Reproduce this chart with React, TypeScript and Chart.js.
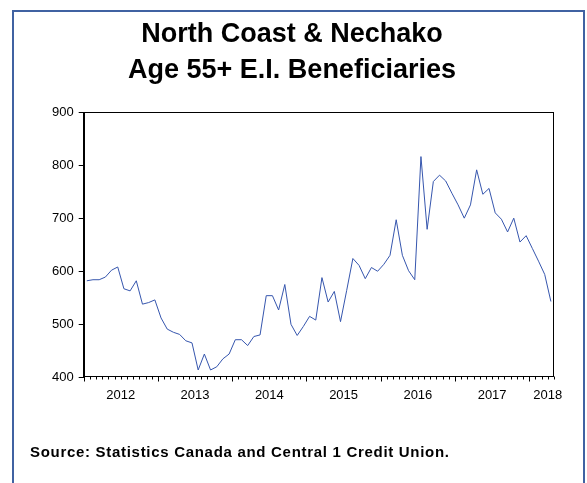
import React, { useEffect, useRef } from 'react';
import { Chart, registerables } from 'chart.js';

Chart.register(...registerables);

// ---- data ----
const startYear = 2012;
const yearLabels = ['2012', '2013', '2014', '2015', '2016', '2017', '2018'];
// monthly, Jan 2012 .. Apr 2018
const beneficiaries = [
  582, 584, 584, 589, 602, 608, 567, 563, 582, 538, 541, 546,
  512, 491, 485, 481, 469, 465, 414, 444, 414, 420, 435, 444,
  471, 471, 460, 477, 480, 554, 554, 527, 575, 500, 479, 496,
  515, 508, 588, 542, 562, 505, 564, 624, 611, 586, 607, 600,
  613, 630, 697, 630, 601, 584, 816, 679, 769, 781, 770, 747,
  725, 700, 725, 791, 745, 756, 710, 698, 674, 700, 655, 667,
  643, 619, 594, 543,
];
const yMin = 400;
const yMax = 900;
const yStep = 100;
const titleLines = ['North Coast & Nechako', 'Age 55+ E.I. Beneficiaries'];
const sourceText = 'Source: Statistics Canada and Central 1 Credit Union.';

const FONT = '"Liberation Sans", Arial, Helvetica, sans-serif';

export default function App() {
  const ref = useRef<HTMLCanvasElement | null>(null);

  useEffect(() => {
    const canvas = ref.current;
    if (!canvas) return;
    const nMonths = beneficiaries.length;
    const points = beneficiaries.map((v, i) => ({ x: i + 0.5, y: v }));

    const framePlugin = {
      id: 'frame',
      beforeDraw(chart: any) {
        const ctx = chart.ctx;
        ctx.save();
        ctx.fillStyle = '#ffffff';
        ctx.fillRect(0, 0, chart.width, chart.height);
        ctx.strokeStyle = '#4062a2';
        ctx.lineWidth = 2;
        ctx.strokeRect(13, 11, 571, 520);
        ctx.restore();
      },
      afterDraw(chart: any) {
        const ctx = chart.ctx;
        const ca = chart.chartArea;
        const xs = chart.scales.x;
        ctx.save();
        // plot box
        ctx.strokeStyle = '#000000';
        ctx.lineWidth = 1;
        const l = Math.round(ca.left) + 0.5;
        const t = Math.round(ca.top) + 0.5;
        const r = Math.round(ca.right) - 0.5;
        const b = Math.round(ca.bottom) - 0.5;
        ctx.strokeRect(l, t, r - l, b - t);
        // month ticks
        ctx.beginPath();
        for (let m = 0; m <= nMonths; m++) {
          const x = Math.round(xs.getPixelForValue(m)) + 0.5;
          const len = m % 12 === 0 ? 5 : 3;
          ctx.moveTo(x, b);
          ctx.lineTo(x, b + len);
        }
        ctx.stroke();
        // title
        ctx.fillStyle = '#000000';
        ctx.textAlign = 'center';
        ctx.textBaseline = 'middle';
        ctx.font = `bold 27px ${FONT}`;
        ctx.fillText(titleLines[0], 292, 35);
        ctx.fillText(titleLines[1], 292, 71);
        // source
        ctx.textAlign = 'left';
        ctx.font = `bold 15px ${FONT}`;
        try {
          (ctx as any).letterSpacing = '0.7px';
        } catch (e) {
          /* ignore */
        }
        ctx.fillText(sourceText, 30, 453);
        ctx.restore();
      },
    };

    const chart = new Chart(canvas, {
      type: 'line',
      data: {
        datasets: [
          {
            label: 'Age 55+ E.I. Beneficiaries',
            data: points,
            borderColor: '#3656ae',
            borderWidth: 1,
            pointRadius: 0,
            tension: 0,
            fill: false,
          },
        ],
      },
      options: {
        responsive: false,
        animation: false,
        devicePixelRatio: 1,
        layout: { padding: { left: 47, right: 33, top: 112, bottom: 70 } },
        plugins: {
          legend: { display: false },
          title: { display: false },
          tooltip: { enabled: false },
        },
        scales: {
          x: {
            type: 'linear',
            min: 0,
            max: nMonths,
            grid: { display: false, drawTicks: false },
            border: { display: false },
            afterBuildTicks: (scale: any) => {
              scale.ticks = yearLabels.map((_, k) => ({
                value: Math.min(k * 12 + 6, nMonths - 1),
              }));
            },
            ticks: {
              autoSkip: false,
              maxRotation: 0,
              padding: 10,
              color: '#000000',
              font: { family: FONT, size: 13 },
              callback: (_v: any, index: number) => yearLabels[index] ?? String(startYear + index),
            },
          },
          y: {
            min: yMin,
            max: yMax,
            grid: {
              drawOnChartArea: false,
              drawTicks: true,
              tickLength: 5,
              color: '#000000',
            },
            border: { display: true, color: '#000000' },
            ticks: {
              stepSize: yStep,
              padding: 5,
              color: '#000000',
              font: { family: FONT, size: 13 },
            },
          },
        },
      },
      plugins: [framePlugin],
    });

    return () => chart.destroy();
  }, []);

  return (
    <div style={{ position: 'absolute', left: 0, top: 0, width: 587, height: 483 }}>
      <canvas ref={ref} width={587} height={483} style={{ display: 'block' }} />
    </div>
  );
}
